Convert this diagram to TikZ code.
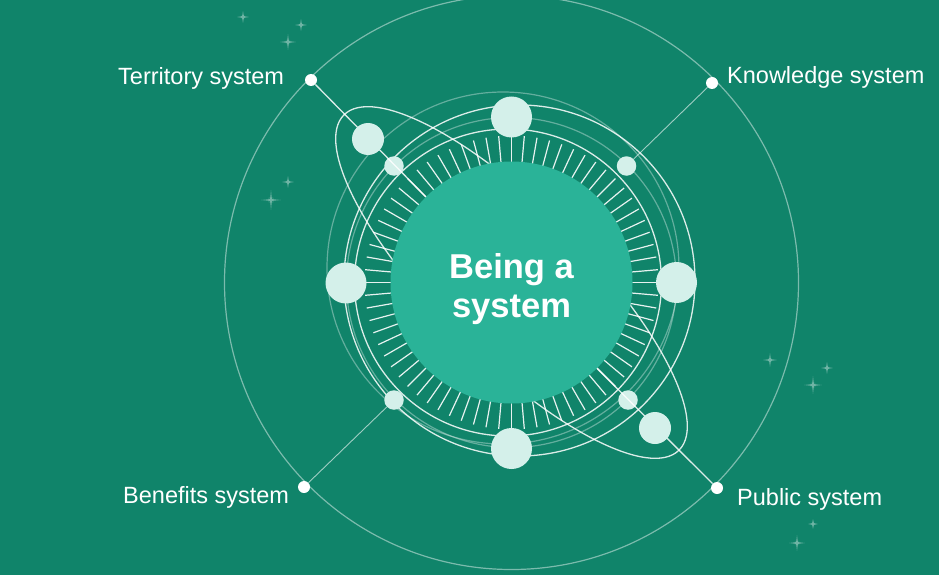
\documentclass[tikz,border=0pt]{standalone}
\usepackage{fontspec}
\setmainfont{Liberation Sans}
\usetikzlibrary{calc}
\definecolor{bg}{RGB}{16,132,106}
\definecolor{disk}{RGB}{42,179,152}
\definecolor{mint}{RGB}{212,240,234}
\begin{document}
\begin{tikzpicture}[x=1pt,y=-1pt,
  faintring/.style={draw=white, draw opacity=.35, line width=1.2pt},
  brightring/.style={draw=white, draw opacity=.85, line width=1.3pt},
  tickline/.style={draw=white, draw opacity=.9, line width=1.2pt},
  conn/.style={draw=white, draw opacity=.85, line width=1.3pt},
  thinconn/.style={draw=white, draw opacity=.6, line width=.9pt},
  bigball/.style={circle, fill=mint, minimum size=41pt, inner sep=0pt},
  midball/.style={circle, fill=mint, minimum size=32pt, inner sep=0pt},
  smallball/.style={circle, fill=mint, minimum size=19.5pt, inner sep=0pt},
  enddot/.style={circle, fill=white, minimum size=12pt, inner sep=0pt},
  lbl/.style={anchor=base west, inner sep=0pt, text=white, font=\fontsize{23.5}{28}\selectfont},
  sparkle/.pic={\fill[white, opacity=.08] (0,0) circle[radius=#1*0.35pt];
                \fill[white, opacity=.35] (0,-#1) -- (.9,-.9) -- (#1,0) -- (.9,.9) -- (0,#1) -- (-.9,.9) -- (-#1,0) -- (-.9,-.9) -- cycle;}
]
\fill[bg] (0,0) rectangle (939,575);
\useasboundingbox (0,0) rectangle (939,575);
\coordinate (c) at (511.5,282.5);
% sparkles
\pic at (243,17) {sparkle=6};
\pic at (301,25) {sparkle=6};
\pic at (288,42) {sparkle=8};
\pic at (288,182) {sparkle=6};
\pic at (271,200) {sparkle=10};
\pic at (770,360) {sparkle=7};
\pic at (827,368) {sparkle=6};
\pic at (813,385) {sparkle=9};
\pic at (813,524) {sparkle=5};
\pic at (797,543) {sparkle=8};
% outer circle
\draw[faintring, draw opacity=.45] (c) circle[radius=287pt];
% rings
\draw[faintring] (c) circle[radius=165pt];
\draw[faintring] (503,268) circle[radius=176pt];
\draw[brightring] (519.5,280.5) circle[radius=175.5pt];
\draw[brightring] (508,282.5) circle[radius=153.5pt];
% tilted orbit
\draw[brightring, rotate around={-45:(c)}] (c) ellipse[x radius=237pt, y radius=75pt];
% nodes
\node[enddot] (tdot) at (311,80) {};
\node[enddot] (kdot) at (712,83) {};
\node[enddot] (bdot) at (304,487) {};
\node[enddot] (pdot) at (717,488) {};
\node[smallball] (tsm) at (394,166) {};
\node[smallball] (ksm) at (626.5,166) {};
\node[smallball] (bsm) at (394,400) {};
\node[smallball] (psm) at (628,400) {};
\coordinate (tin) at ($(c)!0.5!(tsm)$);
\coordinate (pin) at ($(c)!0.5!(psm)$);
% connectors
\draw[conn] (tdot) -- (tin);
\draw[thinconn] (kdot) -- (ksm);
\draw[thinconn] (bdot) -- (bsm);
\draw[conn] (pdot) -- (pin);
% ticks
\foreach \a in {0,5,...,355}
  \draw[tickline] (c) ++(\a:117) -- ++(\a:30);
% disk
\node[circle, fill=disk, minimum size=242pt, inner sep=0pt] (core) at (c) {};
\node[text=white, font=\bfseries\fontsize{34.5}{39}\selectfont, align=center] (title) at (511.5,289) {Being a\\system};
% balls on rings
\node[bigball] (top) at (511.5,117) {};
\node[bigball] (bottom) at (511.5,448.5) {};
\node[bigball] (left) at (346,283) {};
\node[bigball] (right) at (676.5,282.5) {};
\node[midball] (tmid) at (368,139) {};
\node[midball] (pmid) at (655,428) {};
% labels
\node[lbl] (tl) at (118,84.5) {Territory system};
\node[lbl] (kl) at (727,83.5) {Knowledge system};
\node[lbl] (bl) at (123,503.5) {Benefits system};
\node[lbl] (pl) at (737,505) {Public system};
\end{tikzpicture}
\end{document}
